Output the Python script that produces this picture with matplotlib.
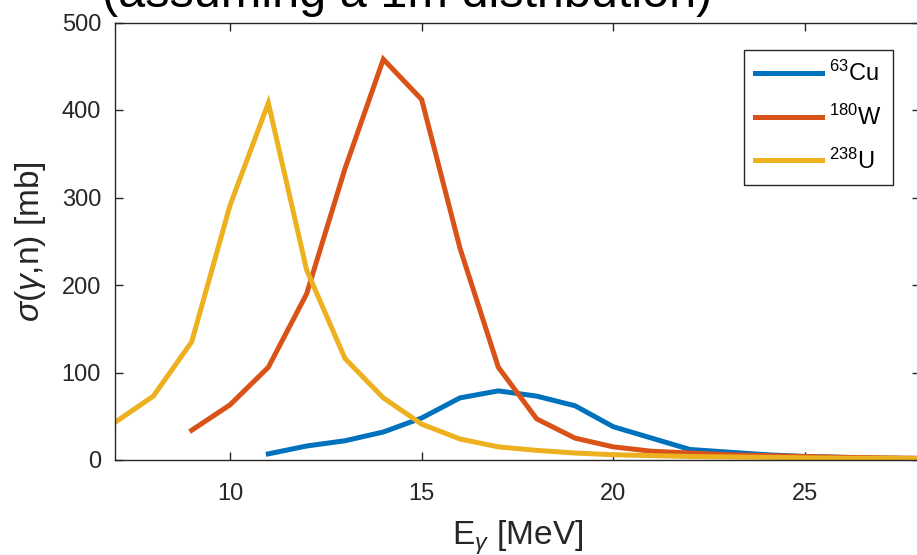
import matplotlib
matplotlib.use("Agg")
import matplotlib.pyplot as plt

plt.rcParams['font.family'] = ['Liberation Sans', 'DejaVu Sans']
plt.rcParams['mathtext.fontset'] = 'custom'
plt.rcParams['mathtext.rm'] = 'Liberation Sans'
plt.rcParams['mathtext.it'] = 'Liberation Sans:italic'
plt.rcParams['mathtext.bf'] = 'Liberation Sans:bold'

# Photonuclear (gamma,n) cross sections in mb versus photon energy in MeV
energy_cu = list(range(11, 29))
sigma_cu = [7, 16, 22, 32, 48, 71, 79, 73, 62, 38, 25, 12, 9, 6, 4, 3, 2, 1.5]

energy_w = list(range(9, 29))
sigma_w = [34, 63, 106, 190, 333, 458, 412, 242, 106, 47, 25, 15, 10, 8, 6, 5, 4, 3, 2.5, 2]

energy_u = list(range(7, 29))
sigma_u = [43, 73, 135, 291, 408, 217, 116, 71, 41, 24, 15, 11, 8, 6, 5, 4, 3.5, 3, 2.5, 2, 2, 1.5]

labels = [r'$^{63}$Cu', r'$^{180}$W', r'$^{238}$U']
colors = ['#0072BD', '#D95319', '#EDB120']

x_ticks = [10, 15, 20, 25]
y_ticks = [0, 100, 200, 300, 400, 500]

axis_color = '#262626'

fig = plt.figure(figsize=(9.17, 5.55), dpi=100)
ax = fig.add_axes([115 / 917, 1 - 460 / 555, (920 - 115) / 917, (460 - 22.5) / 555])

lw = 3.6
ax.plot(energy_cu, sigma_cu, color=colors[0], lw=lw, label=labels[0], solid_joinstyle='miter')
ax.plot(energy_w, sigma_w, color=colors[1], lw=lw, label=labels[1], solid_joinstyle='miter')
ax.plot(energy_u, sigma_u, color=colors[2], lw=lw, label=labels[2], solid_joinstyle='miter')

ax.set_xlim(7, 28)
ax.set_ylim(0, 500)
ax.set_xticks(x_ticks)
ax.set_yticks(y_ticks)
ax.tick_params(direction='in', length=6, width=1.0, color=axis_color,
               labelcolor=axis_color, labelsize=17, top=True, right=True)
ax.tick_params(axis='y', pad=10)
ax.tick_params(axis='x', pad=16.5)
for sp in ax.spines.values():
    sp.set_color(axis_color)
    sp.set_linewidth(1.0)

ax.set_xlabel(r'E$_\gamma$ [MeV]', fontsize=24, color=axis_color, labelpad=10)
ax.set_ylabel(r'$\sigma(\gamma$,n) [mb]', fontsize=24, color=axis_color, labelpad=10)

leg = ax.legend(loc='upper right', bbox_to_anchor=(893 / 917, 1 - 50 / 555),
                bbox_transform=fig.transFigure, borderaxespad=0, fontsize=17,
                handlelength=2.85, handletextpad=0.3, labelspacing=0.78,
                borderpad=0.47, fancybox=False, framealpha=1)
leg.get_frame().set_edgecolor(axis_color)
leg.get_frame().set_linewidth(1.0)
for t in leg.get_texts():
    t.set_color('black')

fig.text(102 / 917, 1 - 7 / 555, '(assuming a 1m distribution)', fontsize=35,
         ha='left', va='baseline', color='black')

fig.savefig('out.png', dpi=100)
